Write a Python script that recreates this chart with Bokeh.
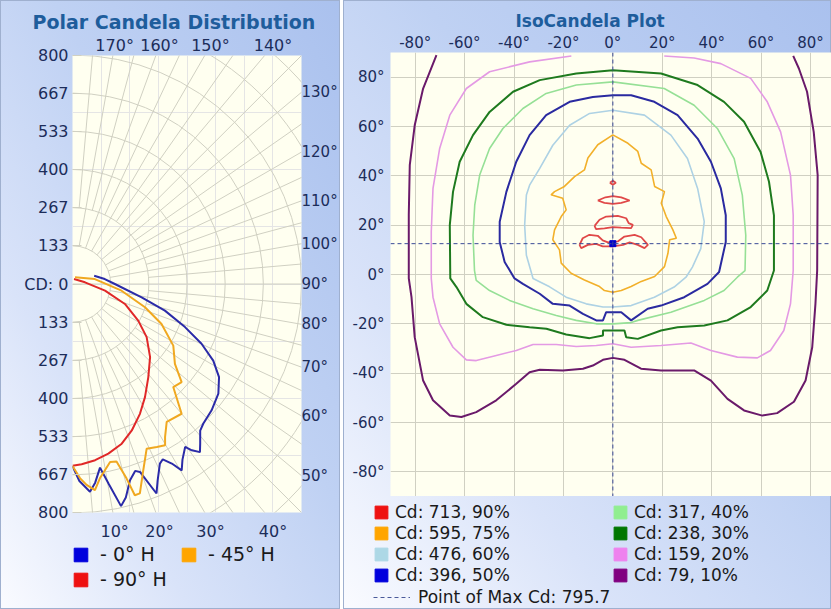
import math
from bokeh.plotting import figure
from bokeh.models import (FixedTicker, CustomJSTickFormatter, LinearAxis,
                          Range1d, Span, Legend, LegendItem)
from bokeh.layouts import row, column
from bokeh.embed import file_html
from bokeh.resources import INLINE

# ------------------------------------------------------------------ data
# Polar candela distribution: vertical angle from nadir (deg) -> candela
h0_angle = [0, 2, 4.8, 6.5, 8.5, 10.2, 12.3, 14, 16.3, 18.5, 19.7, 21.8, 23.4, 25.9, 27.2,
            28.9, 30.3, 32, 34.6, 35.6, 37.1, 38.6, 41, 43.1, 47.7, 53, 57.5, 61.4, 65.1,
            69, 73.9, 79.1, 90, 98.7, 110.8]
h0_cd = [638, 690, 730, 700, 650, 710, 796, 770, 716, 690, 699, 790, 749, 699, 690,
         718, 756, 725, 693, 716, 738, 715, 680, 669, 657, 638, 607, 560, 497,
         421, 336, 246, 148, 114, 81]
h45_angle = [0, 2.2, 4, 6.2, 8, 11.9, 13.9, 15.5, 16.4, 17.8, 20.6, 24.2, 27.3, 29.8, 31.1,
             34.3, 40, 44.3, 48, 52, 58.5, 65.8, 72.2, 82.2, 102.5, 159.5]
h45_cd = [637, 680, 705, 726, 687, 637, 640, 706, 771, 770, 701, 632, 642, 651, 626,
          584, 593, 504, 513, 454, 413, 341, 266, 173, 80, 25]
h90_angle = [0, 2.9, 7.3, 11.9, 17.1, 22, 27.4, 32.6, 39.1, 46.6, 54.3, 60.8, 69.1, 78.4, 97.7, 163]
h90_cd = [636, 632, 622, 607, 585, 553, 512, 470, 420, 373, 319, 263, 196, 116, 44, 18]

cd_max = 800
cd_tick_labels = ["800", "667", "533", "400", "267", "133", "CD: 0",
                  "133", "267", "400", "533", "667", "800"]
top_angles = [170, 160, 150, 140]
bottom_angles = [10, 20, 30, 40]
side_angles = [130, 120, 110, 100, 90, 80, 70, 60, 50]
polar_names = ["- 0° H", "- 90° H", "- 45° H"]

# IsoCandela contours (horizontal deg, vertical deg)
iso_79_x = [-71.4, -76.8, -80.2, -82.2, -82.6, -82.6, -81.5, -80.2, -76.8, -72.8, -66, -61.3,
            -55.3, -47.2, -39.1, -33.7, -29.6, -20.2, -12.1, -8.1, -4, 0, 4.7, 11.4, 19.5, 32.9,
            39.7, 46.4, 53.1, 60.5, 66.5, 73.3, 78, 80.7, 82, 82.7, 82.9, 81.3, 78.6, 75.3, 73]
iso_79_y = [88.9, 75.4, 60.5, 44.3, 24.1, -1.6, -9.2, -25.4, -43, -51, -57.2, -57.8,
            -55.8, -51, -44.3, -39.6, -38.6, -38.9, -38.2, -36.9, -34.6, -33.8, -34.6, -38.2, -38.9, -38.9,
            -43, -50.4, -55.1, -57.2, -56.2, -51.6, -43, -29.5, -11.9, 1.6, 40.3, 57.8, 74.1, 83.5, 88.6]
iso_159_x = [-16.8, -33.7, -49.9, -59.3, -66, -70.1, -72.8, -73.5, -73.5, -72.8, -70.1, -64.7,
             -59.3, -55.3, -47.2, -39.1, -32.3, -22.9, -14.8, -6.7, 0, 7.4, 19.5, 31.6, 39.7, 50.4,
             58.5, 63.8, 69.2, 71.9, 73, 73, 71.9, 67.9, 62.5, 55.8, 43.7, 32.9, 20.8]
iso_159_y = [88.6, 86.2, 82.2, 75.4, 64.6, 51.1, 34.9, 17.3, -1.6, -9.2, -20, -29.5,
             -34.6, -34.9, -32.8, -30.8, -28.4, -28.4, -29.2, -28.8, -28.1, -29.5, -28.8, -27.8, -30.8, -33.5,
             -33.8, -30.8, -22.7, -11.9, 1.6, 24, 40.3, 57.8, 70, 79.5, 85.5, 87.8, 88.6]
iso_238_x = [0, -14.8, -29.6, -40.4, -49.9, -56.6, -62, -64.7, -66, -65.8, -63.3, -59.3, -52.6,
             -43.1, -33.7, -26.9, -18.9, -9.4, -4, -4, 0, 4.7, 5.4, 10.1, 19.5, 26.2, 37, 46.4, 55.8,
             62.5, 65.2, 65.2, 63.2, 59.8, 53.1, 45, 34.3, 19.5, 0]
iso_238_y = [82.8, 81.5, 78.8, 74.1, 65.9, 56.5, 45.7, 33.5, 20, -1.6, -5.1, -11.9, -17.3,
             -20.4, -21.4, -22, -24.3, -25.8, -24.7, -22.7, -22.7, -22.7, -25.4, -26.1, -22.7, -21.4, -20.7, -18.6, -13.2,
             -6.5, 1.6, 24, 37.6, 49.7, 61.9, 70, 76.8, 81.5, 82.8]
iso_317_x = [0, -14.8, -27, -36.4, -44.5, -49.9, -53.9, -55.9, -56.6, -56, -55.3, -49.9, -41.8,
             -32.3, -22.9, -14.8, -6.7, 0, 7.4, 10.1, 23.5, 37, 45, 50.4, 53.5, 53.8, 52.4, 49.1,
             42.3, 32.9, 20.8, 0]
iso_317_y = [78.1, 76.8, 73.4, 67.3, 59.2, 51.1, 40.3, 28.1, 15.9, 1.6, -2.4, -6.5, -10.5,
             -13.9, -16.6, -18.6, -20, -20, -19.5, -18.6, -15.3, -10.5, -6.5, -1.1, 1.6, 15.9, 32.2, 47,
             59.2, 68.6, 75.4, 78.1]
iso_396_x = [0, -8.1, -17.5, -27, -33.7, -39.1, -43.1, -45.8, -45.8, -43.8, -39.8, -36.4, -29.6,
             -24.3, -17.5, -12.1, -6.7, -4, -2.7, 0, 3.4, 7.4, 14.1, 19.5, 28.9, 38.3, 43, 45.7, 45.7,
             43.7, 39.7, 34.3, 26.2, 16.8, 7.4, 0]
iso_396_y = [72.7, 72, 70, 64.6, 56.5, 45.7, 33.5, 21.4, 13.2, 5.1, -1.6, -3.8, -7.8,
             -11.9, -12.6, -16, -18.6, -18.6, -15.3, -15.3, -15.3, -18.6, -13.9, -12.6, -9.2, -3.8, 1, 13.2, 24,
             34.9, 45.7, 55.1, 64.6, 70, 72.7, 72.7]
iso_476_x = [0, -9.4, -17.5, -24.3, -29.6, -33.7, -35, -35.7, -35, -32.3, -25.6, -18.9, -10.8,
             -4, 0, 7.4, 16.8, 24.8, 29.6, 32.2, 35.6, 37, 34.3, 30.2, 23.5, 12.8, 0]
iso_476_y = [66.6, 65.3, 60.5, 52.4, 43, 36.2, 32.2, 20, 7.8, -1.6, -5, -9.2, -11.9,
             -13.2, -13.2, -12.6, -9.2, -5.1, -1.1, 3, 10.5, 21.4, 34.9, 47, 56.5, 64.6, 66.6]
iso_595_x = [0, 6.1, 10.1, 11.5, 15.5, 16.9, 20.9, 19.6, 21.6, 24.3, 25.7, 23, 22.3, 20.9, 16.9,
             11.5, 7.4, 3.4, 0, -3.4, -5.4, -11.5, -16.9, -20.9, -21.6, -24.3, -23.6, -20.9, -18.9,
             -20.3, -25, -23.6, -19.6, -15.5, -11.5, -10.1, -6.1, 0]
iso_595_y = [56.6, 53.2, 49.9, 45.1, 42.4, 35.7, 33.6, 28.9, 23.5, 18.1, 14.7, 14.1, 8.6, 3.2, -0.8,
             -2.8, -4.9, -6.5, -7.2, -6.5, -4.9, -2.2, 0.5, 4.6, 10, 14.1, 18.1, 23.5, 26.2,
             30.9, 32.3, 33.6, 35.7, 39.7, 42.4, 47.2, 52.6, 56.6]
iso_713_a_x = [-1.2, 0, 1.2, 0, -1.2]
iso_713_a_y = [37.2, 38, 37.2, 36.4, 37.2]
iso_713_b_x = [-6.1, -3, 0, 3.4, 6.8, 3.4, 0, -3.4, -6.1]
iso_713_b_y = [30, 31.3, 31.8, 31.3, 30, 29, 28.6, 29, 30]
iso_713_c_x = [-7.4, -5.4, -2.7, 2, 5.4, 6.4, 8.1, 7.4, 3.4, 0, -3.4, -6.8, -7.4]
iso_713_c_y = [19.7, 22.2, 23.5, 23.8, 22.8, 20.8, 20.1, 18.8, 19, 19.2, 18.7, 18.4, 19.7]
iso_713_d_x = [-13.5, -12.2, -9.5, -6.1, -4.1, -2, 2, 4.7, 8.8, 11.5, 14.2, 12.8, 10.1, 6.8,
               4.1, 0, -4.1, -6.8, -10.1, -12.8, -13.5]
iso_713_d_y = [12, 14.7, 16.1, 15.7, 13.8, 13, 13.4, 15.4, 16.1, 15.1, 12, 10.7, 12, 13,
               12, 11.4, 11.4, 12.4, 12, 10.7, 12]
max_point_x = [0]
max_point_y = [12.5]
max_cd = 795.7
iso_ticks = [-80, -60, -40, -20, 0, 20, 40, 60, 80]
iso_labels = ["Cd: 713, 90%", "Cd: 595, 75%", "Cd: 476, 60%", "Cd: 396, 50%",
              "Cd: 317, 40%", "Cd: 238, 30%", "Cd: 159, 20%", "Cd: 79, 10%"]

# ------------------------------------------------------------------ styles
FONT = "DejaVu Sans"
GRID_C = "#d0d0c2"
TICK_C = "#1c2d5a"
TITLE_C = "#1e5d9c"
PLOT_BG = "#fffff0"
PANEL = {"background": "linear-gradient(to top right, #fafbff 0%, #d9e3f9 28%, #bfd1f3 58%, #aac1ee 100%)",
         "box-shadow": "inset 0 0 0 1px #9fb0cf"}
SWATCH = ["#ee1111", "#ffa500", "#add8e6", "#0000dd", "#90ee90", "#007700", "#ee82ee", "#800080"]
LINE_C = ["#e04848", "#f2b02a", "#aed2e4", "#2a2aa0", "#96e096", "#1e7a1e", "#e49ae4", "#6a1a6a"]
LINE_W = [1.8, 1.6, 1.6, 2, 1.6, 2, 1.6, 2]
POLAR_LINE = ["#2b2ba8", "#e02828", "#f0a820"]
POLAR_SW = ["#0000dd", "#ee1111", "#ffa500"]
BARE = dict(output_backend="svg", toolbar_location=None, background_fill_color=None,
            border_fill_color=None, outline_line_color=None, frame_align=False)
NAN = [float("nan")]  # placeholder so legend-only renderers have a (non-drawn) row


def js_labels(ticks, labels):
    return CustomJSTickFormatter(args=dict(t=ticks, lab=labels), code="""
        let k = 0, d = Infinity;
        for (let i = 0; i < t.length; i++) { const e = Math.abs(t[i] - tick); if (e < d) { d = e; k = i; } }
        return lab[k];""")


def style_axis(ax, size, standoff):
    ax.axis_line_color = None
    ax.major_tick_line_color = None
    ax.minor_tick_line_color = None
    ax.major_tick_out = 0
    ax.major_label_text_font = FONT
    ax.major_label_text_font_size = size
    ax.major_label_text_color = TICK_C
    ax.major_label_standoff = standoff


def style_title(t, size, offset):
    t.align = "left"
    t.offset = offset
    t.standoff = 0
    t.text_font = FONT
    t.text_font_size = size
    t.text_font_style = "bold"
    t.text_color = TITLE_C


def legend_fig(width, height, left, top):
    f = figure(width=width, height=height, x_range=Range1d(0, 1), y_range=Range1d(0, 1),
               x_axis_location=None, y_axis_location=None, min_border_left=left,
               min_border_top=top, min_border_right=0, min_border_bottom=0, **BARE)
    f.grid.grid_line_color = None
    return f


def legend(items, location, **kw):
    opts = dict(padding=0, margin=0, background_fill_alpha=0, border_line_color=None,
                label_text_font=FONT, label_text_color="#1a1a1a")
    opts.update(kw)
    return Legend(items=items, location=location, **opts)


# ------------------------------------------------------------------ polar chart
polar = figure(width=340, height=543, x_range=Range1d(0, cd_max), y_range=Range1d(-cd_max, cd_max),
               x_axis_location=None, y_axis_location=None,
               min_border_left=72, min_border_right=36, min_border_top=55, min_border_bottom=28,
               title="Polar Candela Distribution", **BARE)
polar.background_fill_color = PLOT_BG
style_title(polar.title, "19px", -40)

step = cd_max / 6
circles = [step * k for k in range(1, 9)]
polar.arc(x=0, y=0, radius=circles, start_angle=-math.pi / 2, end_angle=math.pi / 2,
          line_color=GRID_C, line_width=1)
ray_x, ray_y = [], []
for a in range(5, 180, 5):
    r0 = 0 if a == 90 else (step if a % 10 == 0 else 2 * step)
    t = math.radians(a)
    ray_x.append([r0 * math.sin(t), 1200 * math.sin(t)])
    ray_y.append([-r0 * math.cos(t), -1200 * math.cos(t)])
polar.multi_line(ray_x, ray_y, line_color=GRID_C, line_width=1)

curves = [(h0_angle, h0_cd), (h90_angle, h90_cd), (h45_angle, h45_cd)]
for (ang, cd), col in zip(curves, POLAR_LINE):
    xs = [c * math.sin(math.radians(a)) for a, c in zip(ang, cd)]
    ys = [-c * math.cos(math.radians(a)) for a, c in zip(ang, cd)]
    polar.line(xs, ys, line_color=col, line_width=2)

cd_ticks = [step * k for k in range(6, -7, -1)]
ax_l = LinearAxis(ticker=FixedTicker(ticks=cd_ticks), formatter=js_labels(cd_ticks, cd_tick_labels))
style_axis(ax_l, "16px", 4)
ax_l.major_tick_in = 9
ax_l.major_tick_line_color = GRID_C
polar.add_layout(ax_l, "left")

R_LAB = cd_max * 240 / 230
top_ticks = [R_LAB * math.tan(math.radians(180 - a)) for a in top_angles]
ax_t = LinearAxis(ticker=FixedTicker(ticks=top_ticks),
                  formatter=js_labels(top_ticks, [f"{a}°" for a in top_angles]))
style_axis(ax_t, "16px", 1)
polar.add_layout(ax_t, "above")
bot_ticks = [R_LAB * math.tan(math.radians(a)) for a in bottom_angles]
ax_b = LinearAxis(ticker=FixedTicker(ticks=bot_ticks),
                  formatter=js_labels(bot_ticks, [f"{a}°" for a in bottom_angles]))
style_axis(ax_b, "16px", 9)
polar.add_layout(ax_b, "below")
side_ticks = [-cd_max / math.tan(math.radians(a)) for a in side_angles]
ax_r = LinearAxis(ticker=FixedTicker(ticks=side_ticks),
                  formatter=js_labels(side_ticks, [f"{a}°" for a in side_angles]))
style_axis(ax_r, "15px", 0)
polar.add_layout(ax_r, "right")

polar_leg = legend_fig(340, 66, 72, 0)
p_items = []
for name, col in zip(polar_names, POLAR_SW):
    r = polar_leg.quad(left=NAN, right=NAN, top=NAN, bottom=NAN, fill_color=col, line_color=col)
    p_items.append(LegendItem(label=name, renderers=[r]))
polar_leg.add_layout(legend(p_items, "top_left", ncols=2, orientation="vertical",
                            glyph_width=17, glyph_height=17, label_standoff=11, label_width=77,
                            label_height=17, spacing=3, label_text_font_size="19px"))

left_panel = column(polar, polar_leg, spacing=0, styles=PANEL)

# ------------------------------------------------------------------ isocandela chart
iso = figure(width=488, height=496, x_range=Range1d(-90, 88.5), y_range=Range1d(-90, 90),
             x_axis_location="above",
             min_border_left=47, min_border_right=0, min_border_top=52, min_border_bottom=0,
             title="IsoCandela Plot", **BARE)
iso.background_fill_color = PLOT_BG
style_title(iso.title, "17px", 125)
for ax in iso.xaxis + iso.yaxis:
    ax.ticker = FixedTicker(ticks=iso_ticks)
    ax.formatter = CustomJSTickFormatter(code="return tick + '°';")
    style_axis(ax, "15px", 5)
iso.xaxis.major_label_standoff = 1
iso.yaxis.major_label_standoff = 6
for g in iso.xgrid + iso.ygrid:
    g.ticker = FixedTicker(ticks=iso_ticks)
    g.grid_line_color = GRID_C

contours = [
    ([iso_713_a_x, iso_713_b_x, iso_713_c_x, iso_713_d_x],
     [iso_713_a_y, iso_713_b_y, iso_713_c_y, iso_713_d_y]),
    ([iso_595_x], [iso_595_y]),
    ([iso_476_x], [iso_476_y]),
    ([iso_396_x], [iso_396_y]),
    ([iso_317_x], [iso_317_y]),
    ([iso_238_x], [iso_238_y]),
    ([iso_159_x], [iso_159_y]),
    ([iso_79_x], [iso_79_y]),
]
for (xs, ys), col, w in zip(contours, LINE_C, LINE_W):
    iso.multi_line(xs, ys, line_color=col, line_width=w)

iso.add_layout(Span(location=max_point_x[0], dimension="height", line_color="#3a4a96",
                    line_dash="4 3", line_width=1))
iso.add_layout(Span(location=max_point_y[0], dimension="width", line_color="#3a4a96",
                    line_dash="4 3", line_width=1))
iso.scatter(max_point_x, max_point_y, marker="square", size=6, color="#0000cc")

iso_leg = legend_fig(488, 113, 30, 6)
i_items = []
for lab, col in zip(iso_labels, SWATCH):
    r = iso_leg.quad(left=NAN, right=NAN, top=NAN, bottom=NAN, fill_color=col, line_color=col)
    i_items.append(LegendItem(label=lab, renderers=[r]))
iso_leg.add_layout(legend(i_items, "top_left", ncols=2, orientation="vertical",
                          glyph_width=16, glyph_height=16, label_standoff=6, label_width=216,
                          label_height=16, spacing=1, label_text_font_size="17px"))
mr = iso_leg.line(x=NAN * 2, y=NAN * 2, line_color="#4a5a9a", line_dash="4 3", line_width=1)
iso_leg.add_layout(legend([LegendItem(label=f"Point of Max Cd: {max_cd}", renderers=[mr])],
                          (0, 2), glyph_width=37, glyph_height=16, label_standoff=8,
                          label_height=16, label_text_font_size="17px"))

right_panel = column(iso, iso_leg, spacing=0, styles=PANEL)

layout = row(left_panel, right_panel, spacing=3)
open("out.html", "w").write(file_html(layout, INLINE))
